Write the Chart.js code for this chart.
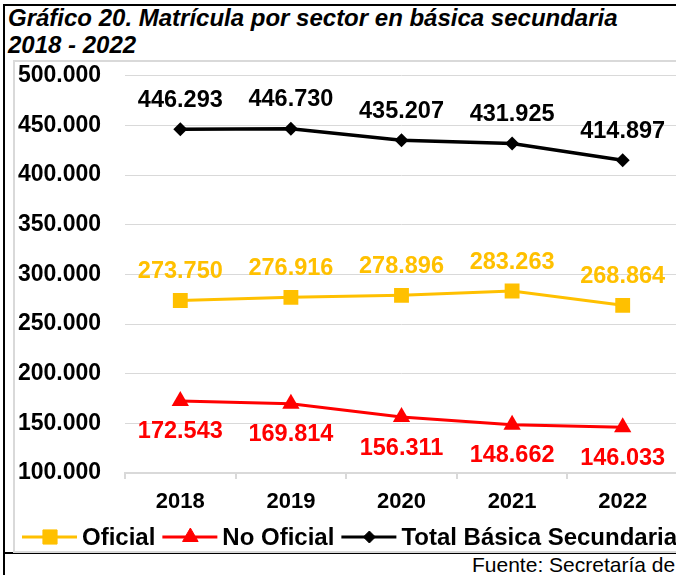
<!DOCTYPE html>
<html><head><meta charset="utf-8">
<script src="https://cdn.jsdelivr.net/npm/chart.js@4"></script>
<style>
html,body{margin:0;padding:0;background:#fff;overflow:hidden;width:676px;height:575px;}
#frame{position:absolute;left:3px;top:4px;width:720px;height:620px;border-left:2px solid #000;border-top:2px solid #000;}
#sep{position:absolute;left:3px;top:552px;width:720px;height:2px;background:#000;}
#title{position:absolute;left:8px;top:4px;font:italic bold 24px 'Liberation Sans',Arial,sans-serif;line-height:27px;white-space:nowrap;color:#000;}
#box{position:absolute;left:13px;top:60px;width:720px;height:489px;border:2px solid #d9d9d9;}
#c{position:absolute;left:15px;top:62px;}
#src{position:absolute;left:472px;top:554px;font:21px 'Liberation Sans',Arial,sans-serif;line-height:22px;white-space:nowrap;color:#000;}
</style></head>
<body>
<div id="frame"></div>
<div id="sep"></div>
<div id="title">Gráfico 20. Matrícula por sector en básica secundaria<br>2018 - 2022</div>
<div id="box"></div>
<canvas id="c" width="680" height="487"></canvas>
<div id="src">Fuente: Secretaría de</div>
<script>
const years = ['2018', '2019', '2020', '2021', '2022'];
const oficial = [273750, 276916, 278896, 283263, 268864];
const noOficial = [172543, 169814, 156311, 148662, 146033];
const totalBasica = [446293, 446730, 435207, 431925, 414897];
const seriesNames = ['Oficial', 'No Oficial', 'Total Básica Secundaria'];
const yMin = 100000, yMax = 500000, yStep = 50000;

const FONT = "'Liberation Sans', Arial, sans-serif";
const fmt = v => String(v).replace(/\B(?=(\d{3})+(?!\d))/g, '.');

const labelPlugin = {
  id: 'valueLabels',
  afterDatasetsDraw(chart) {
    const ctx = chart.ctx;
    ctx.save();
    ctx.font = 'bold 23.5px ' + FONT;
    ctx.textAlign = 'center';
    ctx.textBaseline = 'middle';
    chart.data.datasets.forEach((ds, i) => {
      const meta = chart.getDatasetMeta(i);
      ctx.fillStyle = ds.labelColor;
      meta.data.forEach((pt, j) => {
        ctx.fillText(fmt(ds.data[j]), pt.x, pt.y + ds.labelOffset);
      });
    });
    ctx.restore();
  }
};

const legendPlugin = {
  id: 'lineLegend',
  afterDraw(chart) {
    const ctx = chart.ctx;
    ctx.save();
    ctx.font = 'bold 24px ' + FONT;
    ctx.textBaseline = 'middle';
    ctx.textAlign = 'left';
    let x = 7;
    const y = 475;
    chart.data.datasets.forEach(ds => {
      ctx.strokeStyle = ds.borderColor;
      ctx.fillStyle = ds.borderColor;
      ctx.lineWidth = 3;
      ctx.beginPath();
      ctx.moveTo(x, y);
      ctx.lineTo(x + 55, y);
      ctx.stroke();
      ctx.lineWidth = 1;
      Chart.helpers.drawPoint(ctx, {
        pointStyle: ds.pointStyle,
        radius: ds.legendRadius,
        borderWidth: 1
      }, x + 28, y);
      ctx.fillStyle = '#000';
      ctx.fillText(ds.label, x + 60, y + 1);
      x += 60 + ctx.measureText(ds.label).width + 7;
    });
    ctx.restore();
  }
};

new Chart(document.getElementById('c'), {
  type: 'line',
  data: {
    labels: years,
    datasets: [
      {
        label: seriesNames[0], data: oficial,
        borderColor: '#FFC000', backgroundColor: '#FFC000',
        borderWidth: 3, pointStyle: 'rect', pointRadius: 10.5,
        pointBorderWidth: 0, legendRadius: 10,
        labelColor: '#FFC000', labelOffset: -29, tension: 0
      },
      {
        label: seriesNames[1], data: noOficial,
        borderColor: '#FF0000', backgroundColor: '#FF0000',
        borderWidth: 3, pointStyle: 'triangle', pointRadius: 10,
        pointBorderWidth: 0, legendRadius: 9,
        labelColor: '#FF0000', labelOffset: 31, tension: 0
      },
      {
        label: seriesNames[2], data: totalBasica,
        borderColor: '#000000', backgroundColor: '#000000',
        borderWidth: 3.5, pointStyle: 'rectRot', pointRadius: 7,
        pointBorderWidth: 0, legendRadius: 6,
        labelColor: '#000000', labelOffset: -29, tension: 0
      }
    ]
  },
  options: {
    responsive: false,
    animation: false,
    devicePixelRatio: 1,
    layout: { padding: { left: 3, right: 17, top: 11, bottom: 31 } },
    plugins: { legend: { display: false }, tooltip: { enabled: false } },
    scales: {
      x: {
        offset: true,
        grid: { offset: true, drawOnChartArea: false, drawTicks: true, tickLength: 6, color: '#d9d9d9', lineWidth: 2 },
        border: { display: true, color: '#d9d9d9', width: 2 },
        ticks: { color: '#000', font: { family: FONT, size: 22, weight: 'bold' }, padding: 10, maxRotation: 0 },
        afterFit: s => { s.height = 45; }
      },
      y: {
        min: yMin, max: yMax,
        grid: { drawTicks: false, color: '#d9d9d9', lineWidth: 1 },
        border: { display: false },
        ticks: { stepSize: yStep, color: '#000', font: { family: FONT, size: 23, weight: 'bold' }, padding: 0, crossAlign: 'far', callback: v => fmt(v) },
        afterFit: s => { s.width = 107; }
      }
    }
  },
  plugins: [labelPlugin, legendPlugin]
});
</script>
</body></html>
